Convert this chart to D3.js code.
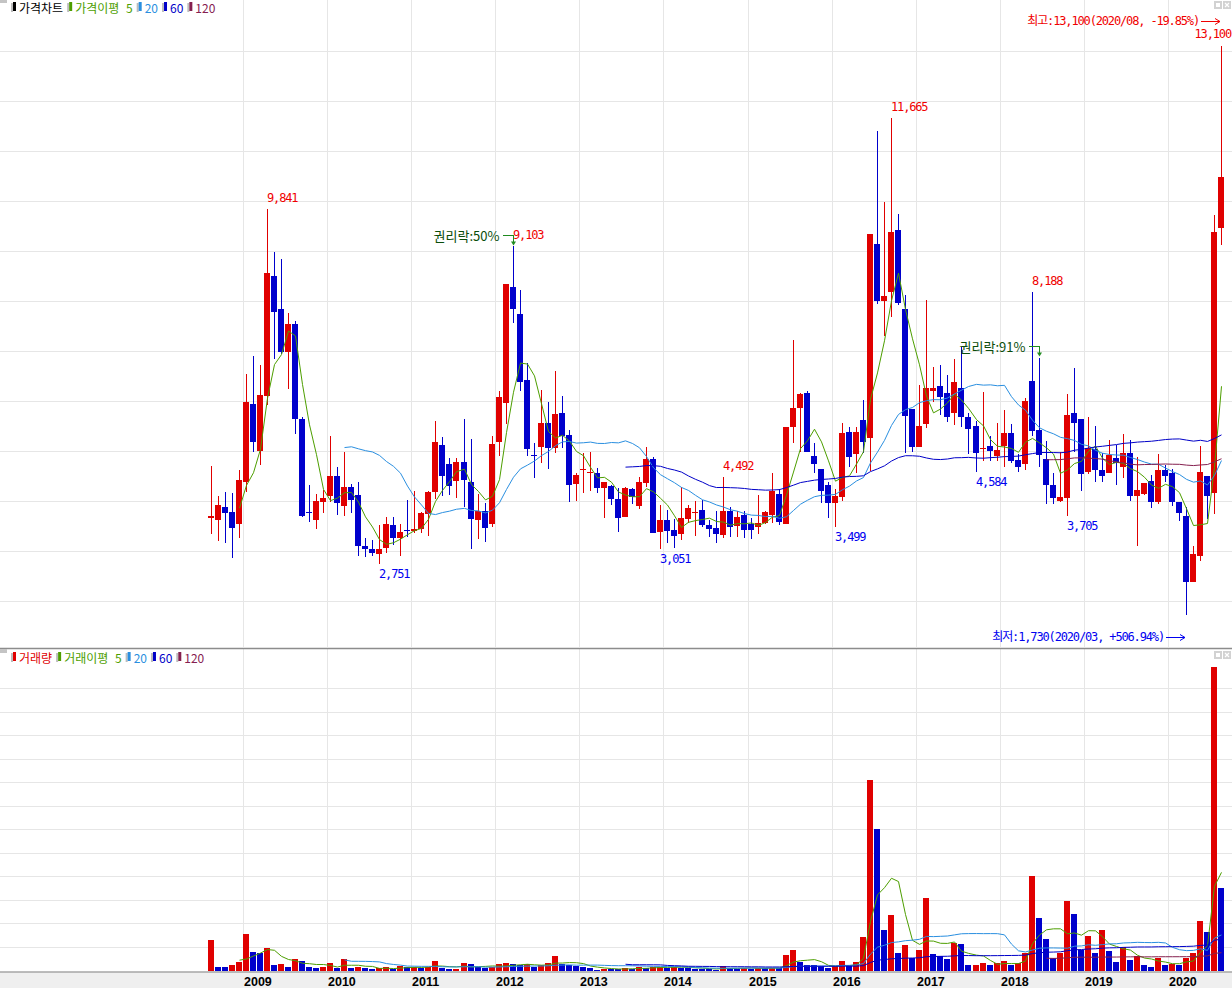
<!DOCTYPE html>
<html><head><meta charset="utf-8">
<script src="https://cdn.jsdelivr.net/npm/d3@7"></script>
<style>
html,body{margin:0;padding:0;background:#fff;}
svg{display:block;}
.num{font-family:"DejaVu Sans Mono","Noto Sans CJK KR",monospace;font-size:12px;letter-spacing:-1.15px;}
.kr{font-family:"Noto Sans CJK KR","Noto Sans",sans-serif;font-size:13px;}
.lg{font-family:"Noto Sans CJK KR","Noto Sans",sans-serif;font-size:12px;word-spacing:4px;}
.yr{font-family:"Liberation Sans",Arial,sans-serif;font-size:12.5px;font-weight:bold;}
</style></head><body>
<svg id="c" width="1232" height="988"></svg>
<script>
// ---------------- DATA (monthly, 2008/08 .. 2020/08) ----------------
const months = [];
for (let k = 0; k < 145; k++) {
  const yr = 2008 + Math.floor((7 + k) / 12), mo = (7 + k) % 12 + 1;
  months.push(yr + "/" + String(mo).padStart(2, "0"));
}
const yearTicks = ["2009","2010","2011","2012","2013","2014","2015","2016","2017","2018","2019","2020"];

const open = [3680,3630,3890,3797,3543,4397,5950,5017,6117,8510,
7850,6997,7550,5650,3790,3630,3997,4117,4517,3917,
4290,4130,3110,3050,2943,3063,3530,3263,3430,3420,
3450,3743,4183,5130,4743,4417,4783,4383,3630,3810,
3550,5197,5977,8290,7743,6430,4930,5097,5577,5077,
5770,5330,4350,4640,4570,4563,4277,4317,4043,3697,
4243,3910,4363,4843,3397,3630,3430,3350,3650,3790,
3830,3530,3463,3330,3817,3510,3730,3550,3497,3563,
3730,4143,3543,5483,5863,6177,4910,4650,4330,3963,
4097,5397,4950,5630,5277,9150,8017,8183,9430,7850,
5850,5097,5543,6210,6317,6163,5770,6273,5683,5502,
5053,5108,4912,5108,5374,4834,4754,6407,5423,4849,
4322,4007,4062,5762,5659,4597,5053,4636,4573,4872,
4691,4967,4101,4141,4416,3991,4636,4573,3991,3714,
2395,2906,4518,4163,9475];

const high = [4710,4110,4183,4163,4630,6550,6910,6730,9841,8997,
8850,7763,7617,5683,4330,4143,4230,5310,4683,4983,
4350,4383,3263,3230,3530,3683,3683,3550,4030,4210,
3800,4217,5617,5297,4863,4863,5650,5250,4150,3963,
5310,6210,8350,9103,8230,6763,5163,6230,5997,6610,
6117,5430,4563,4963,4983,4663,4400,4330,4263,4290,
4277,4497,5097,4883,3930,3830,3650,4297,3930,4010,
4030,3630,3817,4492,3897,3817,3817,3663,4130,3817,
4563,4243,5483,7230,6163,6217,5163,4650,4397,4243,
5577,5497,5483,6030,9350,11417,9997,11665,9750,8130,
5850,6330,8030,6697,6730,6530,6850,7091,5770,5620,
6186,5305,5563,5832,5541,4950,6074,8188,6879,5203,
4579,4990,6155,6666,5659,5683,5517,4967,5226,5124,
5350,5226,4888,4361,4534,4951,4731,4660,3991,3896,
3102,5108,4518,9735,13100];

const low = [3343,3210,3177,2877,3277,4197,4997,4730,5930,6850,
6950,6250,5350,3697,3583,3450,3777,3997,3730,3710,
3763,2910,2897,2917,2751,2963,3130,2917,3297,3363,
3370,3310,4050,4117,4130,4063,3897,3050,3250,3183,
3497,4917,5543,7577,6217,4917,4477,4763,4643,4963,
5077,3997,4017,4177,4210,4177,3677,3930,3383,3690,
3943,3850,4297,3363,3051,3163,3070,3230,3577,3317,
3483,3283,3177,3263,3283,3297,3263,3250,3350,3550,
3563,3530,3543,5163,4997,4997,4563,3963,3663,3499,
4017,4697,4563,4963,4610,7943,7310,7697,7930,4977,
4997,5090,5463,5997,5730,5597,5540,5486,4951,4584,
4818,4818,4818,4691,4770,4597,4636,5305,4691,3944,
3944,3990,3705,4990,4219,4558,4400,4400,4573,4322,
4479,4007,3102,4125,3873,3952,4385,3913,3604,1730,
2395,2811,3660,3747,9137];

const close = [3720,3930,3777,3477,4430,5997,5197,6130,8570,7797,
6997,7550,5643,3717,3763,4010,4077,4517,3977,4297,
4030,3117,3043,2963,3043,3550,3277,3397,3410,3450,
3777,4183,5183,4517,4317,4783,4430,3650,3817,3477,
5150,6090,8350,7857,6397,5050,4910,5563,5077,5750,
5317,4330,4530,4650,4590,4263,4383,4043,3677,4277,
4097,4383,4850,3363,3630,3417,3317,3677,3877,3800,
3530,3450,3343,3817,3497,3683,3430,3430,3563,3797,
4217,3583,5483,5863,6143,4997,4743,4217,3963,4110,
5377,4897,5397,5197,9350,8017,8110,9397,7963,5717,
5083,5510,6277,6277,6097,5697,6380,5698,5447,4967,
5070,5007,5030,5374,4818,4691,6019,5407,4927,4322,
4070,4100,5738,5565,4542,5069,4636,4518,4927,4770,
4967,4101,4227,4361,3991,4636,4503,3991,3761,2395,
2945,4581,4117,9381,10500];

// volume (relative units, 100 = one grid step)
const volume = [132,19,15,24,40,157,82,78,99,24,
28,15,53,44,15,11,15,32,11,53,
11,15,11,7,11,15,8,20,17,19,
12,16,44,13,7,8,32,28,17,13,
17,28,32,31,24,28,17,24,36,62,
30,27,21,17,11,6,10,8,7,12,
10,17,12,16,19,14,18,14,12,10,
8,7,6,20,12,10,12,10,14,11,
13,12,66,88,39,25,24,21,11,22,
41,21,38,145,810,603,174,238,75,110,
54,89,310,72,64,51,120,115,25,26,
33,25,33,42,25,33,78,403,225,136,
54,78,298,242,89,149,75,174,85,38,
100,47,65,25,18,57,25,30,25,57,
75,212,165,1291,352];

const maPeriods = [5, 20, 60, 120];
const highMarks = [8, 43, 73, 97, 117];
const lowMarks = [24, 64, 89, 109, 122];
const lastMark = 144;
const rightsIdx = [43, 118];
const rightsText = ["권리락:50%", "권리락:91%"];
const rightsLevel = [9330, 7110];
const maxText = "최고:13,100(2020/08, -19.85%)";
const minText = "최저:1,730(2020/03, +506.94%)";
const priceLegendLabels = ["가격차트", "가격이평 5", "20", "60", "120"];
const volLegendLabels = ["거래량", "거래이평 5", "20", "60", "120"];

// ---------------- STYLE ----------------
const upC = "#e00000", dnC = "#0000cc";
const maColors = ["#4d9e00", "#2a8fe0", "#0000c8", "#85204f"];
const gridC = "#e6e6e6";

const svg = d3.select("#c");
const W = 1232;
const priceBottom = 647, volTop = 649, volBase = 971;

const x = d3.scaleBand().domain(months).range([207.5, 1224.5]).padding(0);
const cx = i => Math.round(x(months[i]) + x.bandwidth() / 2);
const yP = d3.scaleLinear().domain([1000, 14000]).range([651.5, 1.5]);
const yV = d3.scaleLinear().domain([0, 1300]).range([volBase, 665]);

svg.append("defs").html(
  '<clipPath id="cp"><rect x="0" y="0" width="1232" height="647"/></clipPath>' +
  '<clipPath id="cv"><rect x="0" y="649" width="1232" height="322"/></clipPath>');

// ---------------- GRID ----------------
const g = svg.append("g").attr("shape-rendering", "crispEdges");
g.selectAll(".hp").data(d3.range(2000, 14000, 1000)).join("line")
  .attr("x1", 0).attr("x2", W).attr("y1", d => yP(d)).attr("y2", d => yP(d))
  .attr("stroke", gridC);
g.selectAll(".hv").data(d3.range(100, 1300, 100)).join("line")
  .attr("x1", 0).attr("x2", W).attr("y1", d => Math.floor(yV(d)) + 0.5).attr("y2", d => Math.floor(yV(d)) + 0.5)
  .attr("stroke", gridC);
const gx = yr => Math.round(x(yr + "/01")) + 0.5;
g.selectAll(".vg1").data(yearTicks).join("line")
  .attr("x1", gx).attr("x2", gx).attr("y1", 0).attr("y2", priceBottom).attr("stroke", gridC);
g.selectAll(".vg2").data(yearTicks).join("line")
  .attr("x1", gx).attr("x2", gx).attr("y1", volTop).attr("y2", volBase).attr("stroke", gridC);

// ---------------- CANDLES ----------------
const idx = d3.range(months.length);
const cg = svg.append("g").attr("shape-rendering", "crispEdges").attr("clip-path", "url(#cp)");
const colOf = i => close[i] >= open[i] ? upC : dnC;
cg.selectAll(".wick").data(idx).join("rect")
  .attr("x", i => cx(i)).attr("width", 1)
  .attr("y", i => Math.round(yP(high[i])))
  .attr("height", i => Math.max(1, Math.round(yP(low[i])) - Math.round(yP(high[i]))))
  .attr("fill", colOf);
cg.selectAll(".body").data(idx).join("rect")
  .attr("x", i => cx(i) - 3).attr("width", 6)
  .attr("y", i => Math.round(yP(Math.max(open[i], close[i]))))
  .attr("height", i => Math.max(1, Math.round(yP(Math.min(open[i], close[i]))) - Math.round(yP(Math.max(open[i], close[i])))))
  .attr("fill", colOf);

// ---------------- VOLUME ----------------
const vg = svg.append("g").attr("shape-rendering", "crispEdges").attr("clip-path", "url(#cv)");
vg.selectAll("rect").data(idx).join("rect")
  .attr("x", i => cx(i) - 3).attr("width", 6)
  .attr("y", i => Math.round(yV(volume[i])))
  .attr("height", i => volBase - Math.round(yV(volume[i])))
  .attr("fill", i => (i === 0 || volume[i] > volume[i - 1]) ? upC : dnC);

// ---------------- MOVING AVERAGES ----------------
function sma(arr, n) { return arr.map((_, i) => i < n - 1 ? null : d3.mean(arr.slice(i - n + 1, i + 1))); }
maPeriods.forEach((n, k) => {
  const pm = sma(close, n), vm = sma(volume, n);
  svg.append("path").attr("clip-path", "url(#cp)")
    .attr("d", d3.line().defined(i => pm[i] != null).x(i => cx(i) + 0.5).y(i => yP(pm[i]))(idx))
    .attr("fill", "none").attr("stroke", maColors[k]).attr("stroke-width", 1);
  svg.append("path").attr("clip-path", "url(#cv)")
    .attr("d", d3.line().defined(i => vm[i] != null).x(i => cx(i) + 0.5).y(i => yV(vm[i]))(idx))
    .attr("fill", "none").attr("stroke", maColors[k]).attr("stroke-width", 1);
});

// ---------------- ANNOTATIONS ----------------
const fmt = d3.format(",");
svg.selectAll(".hl").data(highMarks).join("text").attr("class", "num")
  .attr("x", i => cx(i)).attr("y", i => yP(high[i]) - 11).attr("dominant-baseline", "central")
  .attr("fill", "#f00000").text(i => fmt(high[i]));
svg.selectAll(".ll").data(lowMarks).join("text").attr("class", "num")
  .attr("x", i => cx(i)).attr("y", i => yP(low[i]) + 10).attr("dominant-baseline", "central")
  .attr("fill", "#0000f0").text(i => fmt(low[i]));
svg.append("text").attr("class", "num").attr("x", W - 1).attr("y", yP(high[lastMark]) - 13)
  .attr("text-anchor", "end").attr("dominant-baseline", "central").attr("fill", "#f00000")
  .text(fmt(high[lastMark]));

// rights-offering (권리락) markers
rightsIdx.forEach((i, k) => {
  const yy = Math.round(yP(rightsLevel[k])) + 0.5, xx = cx(i) + 0.5;
  svg.append("text").attr("class", "kr").attr("x", xx - 14).attr("y", yy)
    .attr("text-anchor", "end").attr("dominant-baseline", "central").attr("fill", "#0a4d0a").text(rightsText[k]);
  svg.append("path").attr("d", `M${xx - 11},${yy}H${xx}V${yy + 7}`).attr("fill", "none")
    .attr("stroke", "#1f8a1f").attr("shape-rendering", "crispEdges");
  svg.append("path").attr("d", `M${xx - 2.5},${yy + 6}L${xx + 2.5},${yy + 6}L${xx},${yy + 10}Z`).attr("fill", "#1f8a1f");
});

// max / min summary with arrows
function summary(txt, xEnd, yy, col) {
  svg.append("text").attr("class", "num").attr("x", xEnd).attr("y", yy)
    .attr("text-anchor", "end").attr("dominant-baseline", "central").attr("fill", col).text(txt);
  const a = xEnd + 2, b = xEnd + 21, yl = Math.round(yy) + 0.5;
  svg.append("path").attr("d", `M${a},${yl}H${b}M${b - 5},${yl - 3}L${b},${yl}L${b - 5},${yl + 3}`)
    .attr("fill", "none").attr("stroke", col).attr("stroke-width", 1);
}
summary(maxText, 1199, 21, "#f00000");
summary(minText, 1164, 637, "#0000f0");

// ---------------- PANEL FRAME / LEGENDS ----------------
svg.append("line").attr("x1", 0).attr("x2", W).attr("y1", 648.5).attr("y2", 648.5)
  .attr("stroke", "#8c8c8c").attr("stroke-width", 1.5);
svg.append("rect").attr("x", 0).attr("y", 972).attr("width", W).attr("height", 16).attr("fill", "#efefef");
svg.append("line").attr("x1", 0).attr("x2", W).attr("y1", 972).attr("y2", 972)
  .attr("stroke", "#a6a6a6").attr("stroke-width", 1.5);
svg.selectAll(".yl").data(yearTicks).join("text").attr("class", "yr")
  .attr("x", d => gx(d) + 0.5).attr("y", 985.5).attr("fill", "#000").text(d => d);

const priceLegendColors = ["#000000", maColors[0], maColors[1], maColors[2], maColors[3]];
const volLegendColors = [upC, maColors[0], maColors[1], maColors[2], maColors[3]];
function legend(labels, colors, y0) {
  svg.append("rect").attr("x", 0).attr("y", y0 - 3).attr("width", 7).attr("height", 4).attr("fill", "#c4c4c4");
  let xx = 13;
  labels.forEach((t, k) => {
    svg.append("rect").attr("x", xx - 2).attr("y", y0 + 1).attr("width", 2).attr("height", 9).attr("fill", "#bdbdbd");
    svg.append("rect").attr("x", xx).attr("y", y0).attr("width", 3).attr("height", 9).attr("fill", colors[k]);
    const tx = svg.append("text").attr("class", "lg").attr("x", xx + 6).attr("y", y0 + 5)
      .attr("dominant-baseline", "central").attr("fill", colors[k]).text(t);
    xx = xx + 6 + tx.node().getComputedTextLength() + 6;
  });
  // window buttons
  [1214, 1223].forEach((bx, k) => {
    svg.append("rect").attr("x", bx).attr("y", y0 - 1).attr("width", 8).attr("height", 8).attr("fill", "#d2d2d2");
    if (k === 0) svg.append("rect").attr("x", bx + 2).attr("y", y0 + 1).attr("width", 4).attr("height", 4).attr("fill", "#fff");
    else svg.append("path").attr("d", `M${bx + 2},${y0 + 1}L${bx + 6},${y0 + 5}M${bx + 6},${y0 + 1}L${bx + 2},${y0 + 5}`)
      .attr("stroke", "#fff").attr("stroke-width", 1.2);
  });
}
legend(priceLegendLabels, priceLegendColors, 2);
legend(volLegendLabels, volLegendColors, 652);
</script>
</body></html>
